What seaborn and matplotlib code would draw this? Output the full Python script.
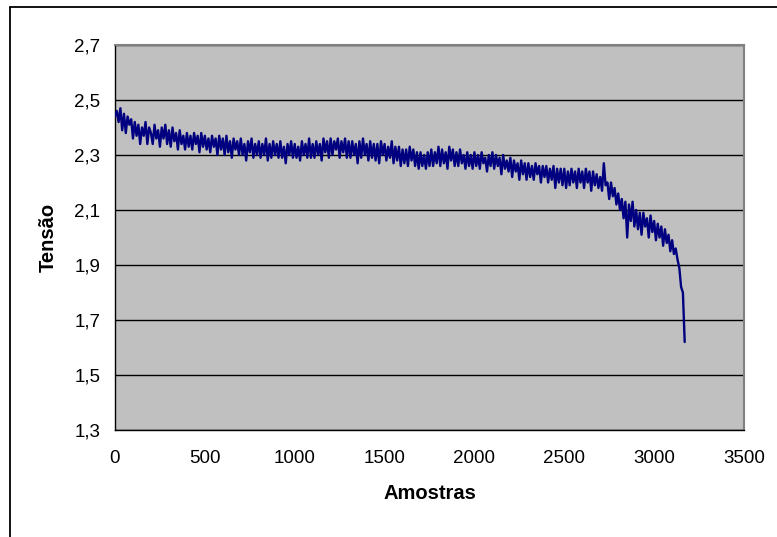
import numpy as np
import pandas as pd
import matplotlib
matplotlib.use("Agg")
import matplotlib.pyplot as plt
from matplotlib.lines import Line2D
from matplotlib.ticker import FuncFormatter
import seaborn as sns

# Battery voltage readings, one value every 10 samples
tensao = [
    2.44, 2.46, 2.42, 2.47, 2.39, 2.45, 2.38, 2.44, 2.41, 2.43,
    2.36, 2.42, 2.37, 2.41, 2.34, 2.40, 2.37, 2.42, 2.34, 2.40,
    2.38, 2.34, 2.41, 2.36, 2.39, 2.33, 2.40, 2.36, 2.41, 2.34,
    2.39, 2.33, 2.40, 2.35, 2.38, 2.32, 2.39, 2.34, 2.37, 2.32,
    2.38, 2.33, 2.37, 2.32, 2.38, 2.34, 2.37, 2.31, 2.38, 2.33,
    2.37, 2.32, 2.36, 2.31, 2.37, 2.33, 2.36, 2.30, 2.37, 2.32,
    2.36, 2.30, 2.37, 2.31, 2.35, 2.29, 2.36, 2.32, 2.35, 2.30,
    2.36, 2.30, 2.34, 2.28, 2.35, 2.31, 2.36, 2.29, 2.34, 2.30,
    2.35, 2.29, 2.34, 2.30, 2.36, 2.28, 2.34, 2.29, 2.35, 2.30,
    2.34, 2.29, 2.35, 2.29, 2.33, 2.27, 2.34, 2.30, 2.35, 2.29,
    2.34, 2.29, 2.33, 2.28, 2.35, 2.30, 2.34, 2.29, 2.36, 2.29,
    2.34, 2.29, 2.35, 2.30, 2.34, 2.28, 2.36, 2.31, 2.35, 2.29,
    2.36, 2.30, 2.35, 2.32, 2.36, 2.29, 2.35, 2.31, 2.36, 2.29,
    2.35, 2.29, 2.35, 2.30, 2.34, 2.27, 2.35, 2.29, 2.36, 2.30,
    2.34, 2.28, 2.35, 2.29, 2.34, 2.28, 2.34, 2.27, 2.35, 2.30,
    2.34, 2.28, 2.33, 2.29, 2.35, 2.27, 2.33, 2.28, 2.33, 2.26,
    2.32, 2.27, 2.32, 2.26, 2.33, 2.28, 2.32, 2.26, 2.31, 2.25,
    2.31, 2.26, 2.30, 2.25, 2.31, 2.26, 2.32, 2.26, 2.31, 2.27,
    2.33, 2.26, 2.32, 2.27, 2.31, 2.25, 2.33, 2.28, 2.32, 2.26,
    2.31, 2.26, 2.32, 2.27, 2.30, 2.25, 2.31, 2.26, 2.30, 2.25,
    2.31, 2.26, 2.30, 2.25, 2.31, 2.27, 2.29, 2.24, 2.30, 2.26,
    2.31, 2.25, 2.30, 2.26, 2.29, 2.23, 2.30, 2.25, 2.28, 2.24,
    2.29, 2.22, 2.28, 2.24, 2.27, 2.21, 2.28, 2.23, 2.27, 2.21,
    2.27, 2.22, 2.26, 2.21, 2.27, 2.23, 2.26, 2.20, 2.26, 2.22,
    2.26, 2.20, 2.25, 2.21, 2.26, 2.18, 2.25, 2.20, 2.25, 2.19,
    2.25, 2.18, 2.24, 2.19, 2.25, 2.20, 2.24, 2.18, 2.25, 2.20,
    2.24, 2.18, 2.25, 2.20, 2.24, 2.17, 2.24, 2.19, 2.23, 2.18,
    2.22, 2.17, 2.27, 2.19, 2.20, 2.14, 2.20, 2.15, 2.18, 2.12,
    2.16, 2.10, 2.14, 2.07, 2.13, 2.00, 2.12, 2.06, 2.13, 2.04,
    2.10, 2.03, 2.09, 2.01, 2.09, 2.04, 2.07, 2.00, 2.08, 2.02,
    2.06, 1.99, 2.05, 2.00, 2.04, 1.97, 2.03, 1.98, 2.01, 1.95,
    1.99, 1.94, 1.96, 1.92, 1.89, 1.82, 1.80, 1.62,
]
passo = 10
amostras = np.arange(len(tensao)) * passo

x_ticks = [0, 500, 1000, 1500, 2000, 2500, 3000, 3500]
y_ticks = [1.3, 1.5, 1.7, 1.9, 2.1, 2.3, 2.5, 2.7]

df = pd.DataFrame({"Amostras": amostras, "Tensão": tensao})

sns.set_style("white")
plt.rcParams["font.family"] = ["Liberation Sans", "DejaVu Sans"]
plt.rcParams["text.color"] = "black"
plt.rcParams["axes.labelcolor"] = "black"

fig = plt.figure(figsize=(7.77, 5.37), dpi=100)
W, H = 777, 537
ax = fig.add_axes([115 / W, (H - 430) / H, (744 - 115) / W, (430 - 45) / H])
ax.set_facecolor("#C0C0C0")

sns.lineplot(data=df, x="Amostras", y="Tensão", ax=ax, color="#000080",
             linewidth=1.7, estimator=None, zorder=3)

ax.set_xlim(0, 3500)
ax.set_ylim(1.3, 2.7)
ax.set_xticks(x_ticks)
ax.set_yticks(y_ticks)
ax.yaxis.set_major_formatter(FuncFormatter(lambda v, p: f"{v:.1f}".replace(".", ",")))
ax.xaxis.set_major_formatter(FuncFormatter(lambda v, p: f"{int(v)}"))
ax.grid(axis="y", color="black", linewidth=1.0, zorder=1)
ax.grid(axis="x", visible=False)
ax.set_axisbelow(True)

for side in ["left", "bottom"]:
    ax.spines[side].set_color("black")
    ax.spines[side].set_linewidth(1.0)
for side in ["top", "right"]:
    ax.spines[side].set_color("#808080")
    ax.spines[side].set_linewidth(1.5)

ax.tick_params(axis="both", direction="out", length=4.5, width=0.8,
               color="black", labelsize=13.5, labelcolor="black")
ax.tick_params(axis="y", pad=6)
ax.tick_params(axis="x", pad=10)

ax.set_xlabel("Amostras", fontsize=14.5, fontweight="bold", labelpad=12, color="black")
ax.set_ylabel("Tensão", fontsize=14.5, fontweight="bold", labelpad=12, color="black")

# outer chart frame (left and top edges)
fig.add_artist(Line2D([10 / W, 10 / W], [0, 1 - 7 / H], transform=fig.transFigure,
                      color="black", linewidth=1.3))
fig.add_artist(Line2D([10 / W, 1], [1 - 7 / H, 1 - 7 / H], transform=fig.transFigure,
                      color="black", linewidth=1.3))

fig.savefig("out.png", dpi=100)
